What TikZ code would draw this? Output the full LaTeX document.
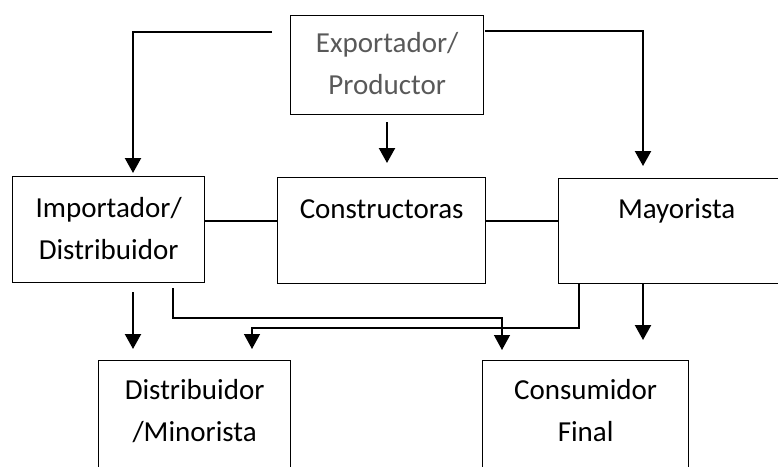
\documentclass[tikz,border=0pt]{standalone}
\usepackage{fontspec}
\setmainfont{Carlito}
\usetikzlibrary{arrows.meta}
\definecolor{txtgray}{RGB}{89,89,89}
\begin{document}
\begin{tikzpicture}[x=1pt,y=-1pt,
  box/.style={draw, line width=1.3pt, anchor=north west, inner sep=0pt, align=center,
    font=\fontsize{29}{42}\selectfont},
  arr/.style={line width=2.2pt, -{Triangle[width=16pt,length=15pt]}},
  link/.style={line width=1.6pt},
  route/.style={line width=1.3pt, -{Triangle[width=16pt,length=15pt]}}]
\useasboundingbox (0,0) rectangle (778,466);
\clip (0,0) rectangle (778,466);

\node[box, minimum width=193pt, minimum height=99pt, text=txtgray] (exp) at (290,15)
  {\strut Exportador/\\\strut Productor};
\node[box, minimum width=192pt, minimum height=106pt] (imp) at (12,176)
  {\strut Importador/\\\strut Distribuidor};
\node[box, minimum width=208pt, minimum height=106pt] (con) at (277,177)
  {\strut Constructoras\\\strut};
\node[box, minimum width=236pt, minimum height=105pt] (may) at (558,178)
  {\strut Mayorista\\\strut};
\node[box, minimum width=192pt, minimum height=144pt] (dis) at (98,360)
  {\strut Distribuidor\\\strut /Minorista\\\strut};
\node[box, minimum width=206pt, minimum height=144pt] (cf) at (482,360)
  {\strut Consumidor\\\strut Final\\\strut};

% free ends of connectors
\coordinate (eL) at (272,32);
\coordinate (eR) at (485,31);
\coordinate (tImp) at (133,173);
\coordinate (tMay) at (643,166);
\coordinate (mS) at (387,122);
\coordinate (mT) at (387,163);
\coordinate (iS) at (133,292);
\coordinate (iT) at (133,349);
\coordinate (rS) at (173,288);
\coordinate (rT) at (502,350);
\coordinate (qS) at (579,283);
\coordinate (qT) at (252,349);
\coordinate (yS) at (643,283);
\coordinate (yT) at (643,340);

\draw[arr] (eL) -| (tImp);
\draw[arr] (eR) -| (tMay);
\draw[arr] (mS) -- (mT);

\draw[link] (imp.east |- 0,221) -- (con.west |- 0,221);
\draw[link] (con.east |- 0,221) -- (may.west |- 0,221);

\draw[arr] (iS) -- (iT);
\draw[route] (rS) |- (502,318) -- (rT);
\draw[route] (qS) |- (252,328) -- (qT);
\draw[arr] (yS) -- (yT);
\end{tikzpicture}
\end{document}
